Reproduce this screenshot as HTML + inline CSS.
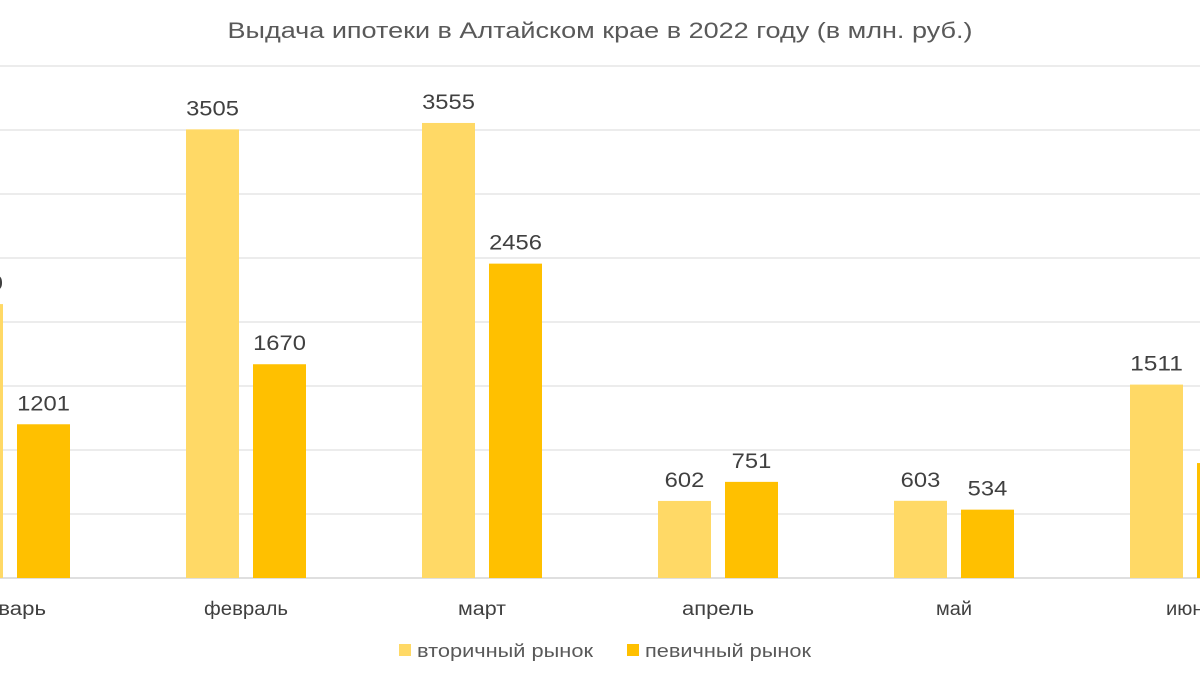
<!DOCTYPE html>
<html><head><meta charset="utf-8"><style>
html,body{margin:0;padding:0;background:#fff;}
svg{display:block;font-family:"Liberation Sans","DejaVu Sans",sans-serif;}
</style></head><body>
<svg id="chart" width="1200" height="675" viewBox="0 0 1200 675">
<text x="600" y="38" text-anchor="middle" font-size="22" fill="#595959" textLength="745" lengthAdjust="spacingAndGlyphs">Выдача ипотеки в Алтайском крае в 2022 году (в млн. руб.)</text>
<g id="grid"></g>
<g id="bars"></g>
<g id="labels"></g>
<g>
<rect x="399" y="644" width="12" height="12" fill="#FFD966"/>
<text x="417" y="657" font-size="18" fill="#595959" textLength="176" lengthAdjust="spacingAndGlyphs">вторичный рынок</text>
<rect x="627" y="644" width="12" height="12" fill="#FFC000"/>
<text x="645" y="657" font-size="18" fill="#595959" textLength="166" lengthAdjust="spacingAndGlyphs">певичный рынок</text>
</g>
</svg>
<script>
const categories = ["январь","февраль","март","апрель","май","июнь"];
const secondary = [2140, 3505, 3555, 602, 603, 1511];
const primary = [1201, 1670, 2456, 751, 534, 898];
const yTicks = [0,500,1000,1500,2000,2500,3000,3500,4000];

const NS = "http://www.w3.org/2000/svg";
const base = 578, pxPer = 0.128;
const y = v => base - v * pxPer;
const cx = i => 10 + i * 236;
const bw = 53, gap = 14;
function mk(tag, attrs, parent){const e=document.createElementNS(NS,tag);for(const k in attrs)e.setAttribute(k,attrs[k]);parent.appendChild(e);return e;}
const grid=document.getElementById('grid'), bars=document.getElementById('bars'), labels=document.getElementById('labels');
yTicks.forEach(t=>{
  const l=mk('line',{x1:0,x2:1200,y1:y(t),y2:y(t),stroke:t===0?'#bfbfbf':'#d9d9d9','stroke-width':1},grid);
  
  
});
categories.forEach((c,i)=>{
  const c0=cx(i);
  const x1=c0-gap/2-bw, x2=c0+gap/2;
  const r1=mk('rect',{x:x1,y:y(secondary[i]),width:bw,height:secondary[i]*pxPer,fill:'#FFD966'},bars);
  
  
  const r2=mk('rect',{x:x2,y:y(primary[i]),width:bw,height:primary[i]*pxPer,fill:'#FFC000'},bars);
  
  
  const s1=String(secondary[i]), s2=String(primary[i]);
  const t1=mk('text',{x:x1+bw/2,y:y(secondary[i])-14,'text-anchor':'middle','font-size':21,fill:'#404040',textLength:s1.length*13.2,lengthAdjust:'spacingAndGlyphs'},labels);
  t1.textContent=s1;
  
  
  const t2=mk('text',{x:x2+bw/2,y:y(primary[i])-14,'text-anchor':'middle','font-size':21,fill:'#404040',textLength:s2.length*13.2,lengthAdjust:'spacingAndGlyphs'},labels);
  t2.textContent=s2;
  
  
  const cl=mk('text',{x:c0,y:615,'text-anchor':'middle','font-size':19,fill:'#404040',textLength:c.length*12,lengthAdjust:'spacingAndGlyphs'},labels);
  cl.textContent=c;
  
  
});
</script>
</body></html>
